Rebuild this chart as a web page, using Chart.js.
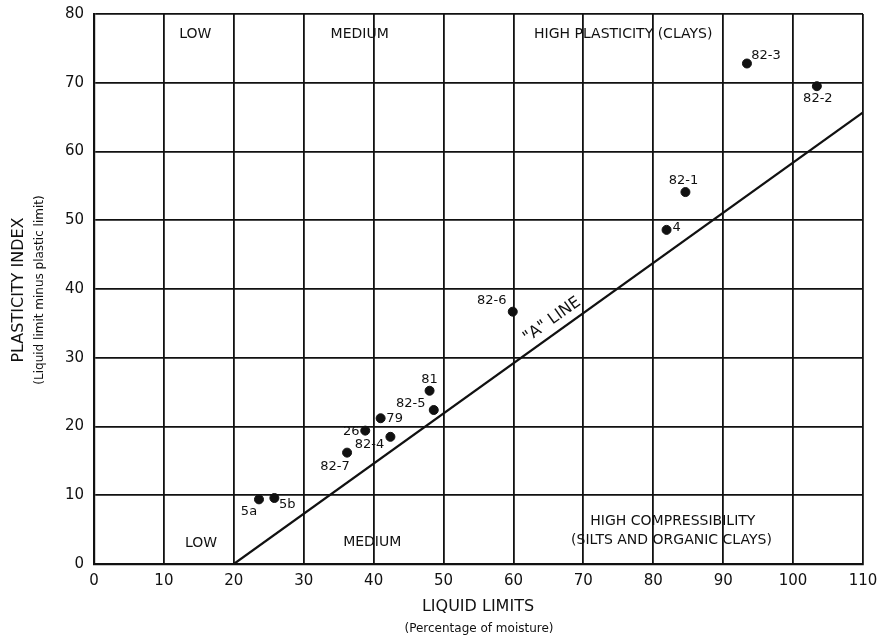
<!DOCTYPE html>
<html>
<head>
<meta charset="utf-8">
<script src="https://cdn.jsdelivr.net/npm/chart.js@4"></script>
<style>
  html, body { margin: 0; padding: 0; background: #fff; }
  #wrap { width: 881px; height: 638px; }
</style>
</head>
<body>
<div id="wrap"><canvas id="plasticityChart" width="881" height="638"></canvas></div>
<script>
// samples: liquid limit (x) and plasticity index (y)
const sampleNames = ['5a', '5b', '82-7', '26', '82-4', '79', '82-5', '81', '82-6', '4', '82-1', '82-3', '82-2'];
const liquidLimits = [23.6, 25.8, 36.2, 38.8, 42.4, 41.0, 48.6, 48.0, 59.9, 81.9, 84.6, 93.4, 103.4];
const plasticityIdx = [9.4, 9.6, 16.2, 19.4, 18.5, 21.2, 22.4, 25.2, 36.7, 48.6, 54.1, 72.8, 69.5];

// "A" line end points
const aLineLL = [20, 110];
const aLinePI = [0, 65.7];

const xTicks = [0, 10, 20, 30, 40, 50, 60, 70, 80, 90, 100, 110];
const yTicks = [0, 10, 20, 30, 40, 50, 60, 70, 80];

// label offsets in px from each point
const labelOffsets = [[-10, 12], [13, 7], [-12, 14], [-14, 1], [-21, 8], [14, 0], [-23, -6], [0, -11], [-21, -11], [10, -2], [-2, -11], [19, -8], [1, 12]];

// region texts placed in data coords
const regionTexts = ['LOW', 'MEDIUM', 'HIGH PLASTICITY (CLAYS)', 'LOW', 'MEDIUM', 'HIGH COMPRESSIBILITY', '(SILTS AND ORGANIC CLAYS)'];
const regionX = [14.5, 38.0, 75.7, 15.3, 39.8, 82.8, 82.6];
const regionY = [77.1, 77.1, 77.1, 3.0, 3.2, 6.2, 3.4];

const FONT = 'DejaVu Sans';

const annotate = {
    id: 'annotate',
    afterDatasetsDraw(chart) {
        const ctx = chart.ctx;
        const xs = chart.scales.x, ys = chart.scales.y;
        ctx.save();
        ctx.fillStyle = '#111';
        ctx.textAlign = 'center';
        ctx.textBaseline = 'middle';

        ctx.font = '13px "' + FONT + '"';
        for (let i = 0; i < sampleNames.length; i++) {
            const px = xs.getPixelForValue(liquidLimits[i]);
            const py = ys.getPixelForValue(plasticityIdx[i]);
            ctx.fillText(sampleNames[i], px + labelOffsets[i][0], py + labelOffsets[i][1]);
        }

        ctx.font = '14px "' + FONT + '"';
        for (let i = 0; i < regionTexts.length; i++) {
            ctx.fillText(regionTexts[i], xs.getPixelForValue(regionX[i]), ys.getPixelForValue(regionY[i]));
        }

        // "A" LINE text along the line
        const x1 = xs.getPixelForValue(aLineLL[0]), y1 = ys.getPixelForValue(aLinePI[0]);
        const x2 = xs.getPixelForValue(aLineLL[1]), y2 = ys.getPixelForValue(aLinePI[1]);
        const ang = Math.atan2(y2 - y1, x2 - x1);
        ctx.save();
        ctx.translate(552, 320);
        ctx.rotate(ang);
        ctx.font = '16px "' + FONT + '"';
        ctx.fillText('"A" LINE', 0, 0);
        ctx.restore();

        // axis titles
        ctx.font = '16px "' + FONT + '"';
        ctx.fillText('LIQUID LIMITS', 478, 607);
        ctx.font = '12px "' + FONT + '"';
        ctx.fillText('(Percentage of moisture)', 479, 629);

        ctx.save();
        ctx.translate(19, 290);
        ctx.rotate(-Math.PI / 2);
        ctx.font = '16px "' + FONT + '"';
        ctx.fillText('PLASTICITY INDEX', 0, 0);
        ctx.restore();
        ctx.save();
        ctx.translate(40, 290);
        ctx.rotate(-Math.PI / 2);
        ctx.font = '12px "' + FONT + '"';
        ctx.fillText('(Liquid limit minus plastic limit)', 0, 0);
        ctx.restore();

        ctx.restore();
    }
};

const chart = new Chart(document.getElementById('plasticityChart').getContext('2d'), {
    type: 'scatter',
    data: {
        datasets: [{
            label: 'Samples',
            data: liquidLimits.map((v, i) => ({x: v, y: plasticityIdx[i]})),
            backgroundColor: '#111',
            borderColor: '#111',
            pointRadius: 4.5,
            pointHoverRadius: 4.5
        },
        {
            label: 'A line',
            type: 'line',
            data: aLineLL.map((v, i) => ({x: v, y: aLinePI[i]})),
            borderColor: '#111',
            borderWidth: 2.2,
            pointRadius: 0,
            fill: false
        }]
    },
    options: {
        responsive: false,
        animation: false,
        layout: { padding: { top: 14, right: 18, left: 0, bottom: 0 } },
        plugins: { legend: { display: false }, tooltip: { enabled: false } },
        scales: {
            x: {
                type: 'linear',
                min: 0, max: 110,
                afterBuildTicks: (s) => { s.ticks = xTicks.map(v => ({value: v})); },
                afterFit: (s) => { s.height = 74; s.paddingRight = 0; s.paddingLeft = 0; },
                grid: { color: '#111', lineWidth: 1.8, drawTicks: false },
                border: { color: '#111', width: 2.2 },
                ticks: { color: '#111', padding: 8, font: { family: FONT, size: 15 }, maxRotation: 0 }
            },
            y: {
                type: 'linear',
                min: 0, max: 80,
                afterBuildTicks: (s) => { s.ticks = yTicks.map(v => ({value: v})); },
                afterFit: (s) => { s.width = 94; s.paddingTop = 0; s.paddingBottom = 0; },
                grid: { color: '#111', lineWidth: 1.8, drawTicks: false },
                border: { color: '#111', width: 2.2 },
                ticks: { color: '#111', padding: 10, font: { family: FONT, size: 15 } }
            }
        }
    },
    plugins: [annotate]
});
</script>
</body>
</html>
